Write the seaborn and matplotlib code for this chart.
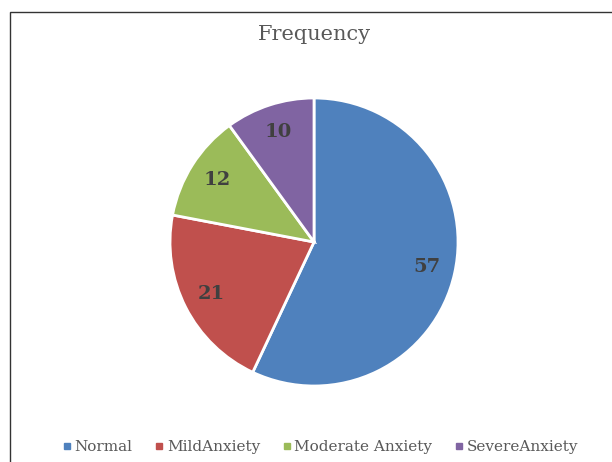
import matplotlib
matplotlib.use('Agg')
import matplotlib.pyplot as plt
from matplotlib.lines import Line2D
from matplotlib.patches import Rectangle
import seaborn as sns

sns.set_theme(style='white')
plt.rcParams['font.family'] = ['DejaVu Serif']

# data
categories = ['Normal', 'MildAnxiety', 'Moderate Anxiety', 'SevereAnxiety']
counts = [57, 21, 12, 10]
colors = ['#4F81BD', '#C0504D', '#9BBB59', '#8064A2']

fig = plt.figure(figsize=(6.12, 4.62), dpi=100)
fig.patch.set_facecolor('white')

# frame around the chart
fig.patches.append(Rectangle((10 / 612, -0.1), 2, 1.1 - 12 / 462, transform=fig.transFigure,
                             fill=False, edgecolor='#333333', linewidth=1.0))

ax = fig.add_axes([0.2778, 0.1645, 0.4706, 0.6234])
wedges, texts, autotexts = ax.pie(
    counts, colors=colors, startangle=90, counterclock=False,
    autopct=lambda p: f'{round(p * sum(counts) / 100):d}', pctdistance=0.8,
    wedgeprops=dict(edgecolor='white', linewidth=2),
    textprops=dict(color='#404040', fontsize=14, fontweight='bold'))
ax.set_xlim(-1, 1)
ax.set_ylim(-1, 1)
ax.set_aspect('equal')
ax.axis('off')

fig.text(0.513, 0.925, 'Frequency', ha='center', va='center', fontsize=15, color='#595959')

handles = [Line2D([0], [0], marker='s', linestyle='', markersize=4.5,
                  markerfacecolor=c, markeredgecolor=c) for c in colors]
fig.legend(handles, categories, loc='center', bbox_to_anchor=(0.522, 0.032), ncol=4,
           frameon=False, fontsize=11, labelcolor='#595959', handletextpad=0.1,
           columnspacing=1.35, handlelength=0.8)

fig.savefig('out.png', dpi=100)
